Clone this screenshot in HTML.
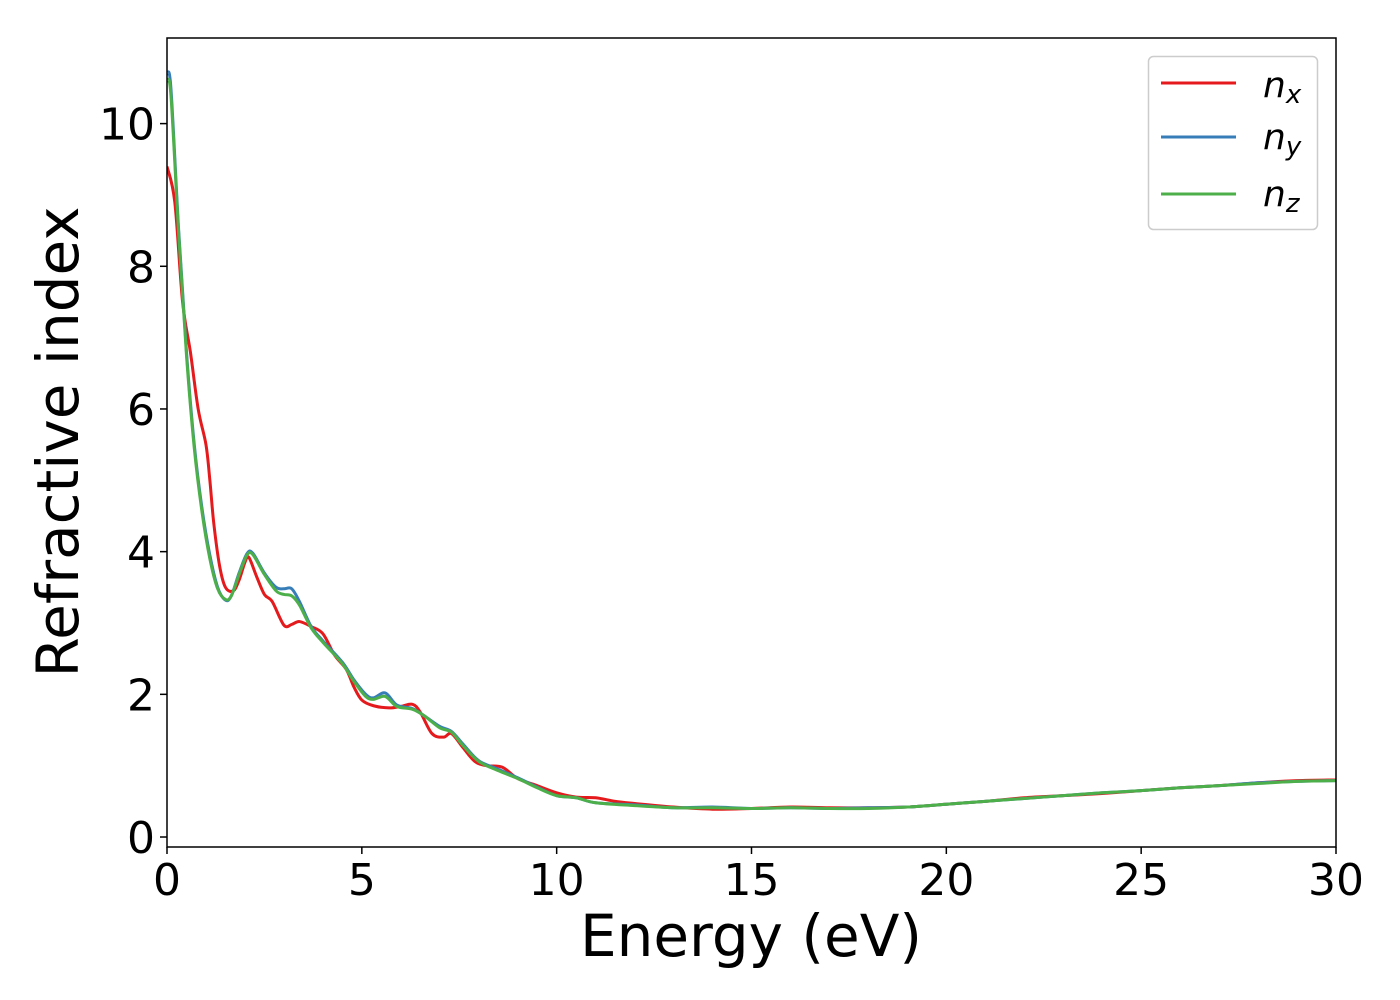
<!DOCTYPE html>
<html><head><meta charset="utf-8"><style>
body{margin:0;background:#fff;}
svg{display:block;font-family:"DejaVu Sans","Liberation Sans",sans-serif;}
</style></head><body>
<svg id="chart" width="1400" height="1000" viewBox="0 0 1400 1000" xmlns="http://www.w3.org/2000/svg">
<g id="plot"></g>
<g id="axes"></g>
<text x="751" y="956" font-size="58" text-anchor="middle">Energy (eV)</text>
<text transform="translate(78,442) rotate(-90)" font-size="58" text-anchor="middle">Refractive index</text>
<g>
<rect x="1148.5" y="56.5" width="169" height="173" rx="5" fill="#fff" stroke="#ccc" stroke-width="1.5"/>
<line x1="1161" y1="83" x2="1236" y2="83" stroke="#e41a1c" stroke-width="3"/>
<text x="1263" y="97" font-size="36" font-style="italic">n<tspan font-size="26" dy="6">x</tspan></text>
<line x1="1161" y1="137" x2="1236" y2="137" stroke="#377eb8" stroke-width="3"/>
<text x="1263" y="149" font-size="36" font-style="italic">n<tspan font-size="26" dy="6">y</tspan></text>
<line x1="1161" y1="194" x2="1236" y2="194" stroke="#4daf4a" stroke-width="3"/>
<text x="1263" y="206" font-size="36" font-style="italic">n<tspan font-size="26" dy="6">z</tspan></text>
</g>
</svg>
<script>
const xTicks=[0,5,10,15,20,25,30];
const yTicks=[0,2,4,6,8,10];
const nxE=[0,0.2,0.4,0.6,0.8,1.0,1.1,1.2,1.35,1.5,1.7,1.85,2.0,2.1,2.3,2.5,2.7,3.0,3.2,3.4,3.7,4.0,4.3,4.6,4.8,5.0,5.3,5.7,6.0,6.3,6.5,6.8,7.1,7.3,7.6,7.9,8.2,8.6,9.0,9.5,10,10.5,11,11.5,12,13,14,15,16,17,18,19,20,21,22,23,24,25,26,27,28,29,30];
const nxV=[9.4,8.9,7.5,6.8,6.0,5.5,5.0,4.4,3.8,3.5,3.45,3.6,3.85,3.92,3.65,3.4,3.3,2.97,2.98,3.02,2.95,2.85,2.55,2.35,2.1,1.92,1.84,1.81,1.83,1.86,1.75,1.45,1.4,1.45,1.25,1.06,1.0,0.98,0.82,0.72,0.62,0.56,0.55,0.5,0.47,0.42,0.39,0.4,0.42,0.41,0.41,0.42,0.46,0.5,0.55,0.58,0.61,0.65,0.69,0.72,0.76,0.79,0.8];
const nyE=[0,0.1,0.3,0.5,0.7,0.9,1.1,1.3,1.5,1.65,1.85,2.05,2.2,2.5,2.8,3.0,3.2,3.4,3.7,4.0,4.5,4.8,5.1,5.3,5.6,5.9,6.3,6.6,7.0,7.3,7.6,8.0,8.5,9,9.5,10,10.5,11,12,13,14,15,16,17,18,19,20,21,22,23,24,25,26,27,28,29,30];
const nyV=[10.7,10.5,8.5,6.8,5.5,4.6,3.95,3.5,3.32,3.38,3.7,3.97,3.98,3.7,3.5,3.48,3.48,3.3,2.95,2.75,2.45,2.2,2.0,1.95,2.02,1.85,1.8,1.7,1.55,1.48,1.3,1.07,0.95,0.83,0.7,0.58,0.55,0.48,0.45,0.41,0.42,0.4,0.41,0.4,0.41,0.42,0.46,0.5,0.54,0.58,0.62,0.65,0.69,0.72,0.76,0.78,0.79];
const nzE=nyE.slice();
const nzV=[10.6,10.4,8.45,6.75,5.45,4.55,3.9,3.48,3.33,3.38,3.68,3.95,3.96,3.68,3.45,3.4,3.38,3.25,2.93,2.73,2.43,2.18,1.97,1.93,1.97,1.83,1.79,1.7,1.53,1.47,1.28,1.06,0.93,0.82,0.69,0.58,0.55,0.48,0.44,0.41,0.41,0.4,0.41,0.4,0.4,0.42,0.46,0.5,0.54,0.58,0.62,0.65,0.69,0.72,0.75,0.78,0.79];
const X0=167,X1=1336,Y0=38,Y1=847,xmin=0,xmax=30,ymin=-0.14,ymax=11.2;
const sx=v=>X0+(v-xmin)/(xmax-xmin)*(X1-X0);
const sy=v=>Y1-(v-ymin)/(ymax-ymin)*(Y1-Y0);
const NS="http://www.w3.org/2000/svg";
const plot=document.getElementById('plot'),axes=document.getElementById('axes');
function path(E,V){const p=E.map((e,i)=>[sx(e),sy(V[i])]);let d=`M${p[0][0]},${p[0][1]}`;
for(let i=0;i<p.length-1;i++){const a=p[i-1]||p[i],b=p[i],c=p[i+1],e=p[i+2]||c;
d+=`C${b[0]+(c[0]-a[0])/6},${b[1]+(c[1]-a[1])/6} ${c[0]-(e[0]-b[0])/6},${c[1]-(e[1]-b[1])/6} ${c[0]},${c[1]}`;}return d;}
const series=[[nxE,nxV,'#e41a1c','line-nx'],[nyE,nyV,'#377eb8','line-ny'],[nzE,nzV,'#4daf4a','line-nz']];
const cp=document.createElementNS(NS,'clipPath');cp.setAttribute('id','cl');
const cr=document.createElementNS(NS,'rect');cr.setAttribute('x',X0);cr.setAttribute('y',Y0);cr.setAttribute('width',X1-X0);cr.setAttribute('height',Y1-Y0);cp.appendChild(cr);plot.appendChild(cp);
series.forEach(s=>{const el=document.createElementNS(NS,'path');el.setAttribute('d',path(s[0],s[1]));el.setAttribute('fill','none');el.setAttribute('stroke',s[2]);el.setAttribute('stroke-width','3');el.setAttribute('clip-path','url(#cl)');


plot.appendChild(el);});
const fr=document.createElementNS(NS,'rect');fr.setAttribute('x',X0);fr.setAttribute('y',Y0);fr.setAttribute('width',X1-X0);fr.setAttribute('height',Y1-Y0);fr.setAttribute('fill','none');fr.setAttribute('stroke','#000');fr.setAttribute('stroke-width','1.5');


axes.appendChild(fr);
xTicks.forEach(t=>{const l=document.createElementNS(NS,'line');l.setAttribute('x1',sx(t));l.setAttribute('x2',sx(t));l.setAttribute('y1',Y1);l.setAttribute('y2',Y1+7);l.setAttribute('stroke','#000');l.setAttribute('stroke-width','1.5');


axes.appendChild(l);
const tx=document.createElementNS(NS,'text');tx.setAttribute('x',sx(t));tx.setAttribute('y',Y1+48);tx.setAttribute('font-size','44');tx.setAttribute('text-anchor','middle');tx.textContent=t;


axes.appendChild(tx);});
yTicks.forEach(t=>{const l=document.createElementNS(NS,'line');l.setAttribute('x1',X0-7);l.setAttribute('x2',X0);l.setAttribute('y1',sy(t));l.setAttribute('y2',sy(t));l.setAttribute('stroke','#000');l.setAttribute('stroke-width','1.5');


axes.appendChild(l);
const tx=document.createElementNS(NS,'text');tx.setAttribute('x',X0-12);tx.setAttribute('y',sy(t)+16);tx.setAttribute('font-size','44');tx.setAttribute('text-anchor','end');tx.textContent=t;


axes.appendChild(tx);});
</script>
</body></html>
